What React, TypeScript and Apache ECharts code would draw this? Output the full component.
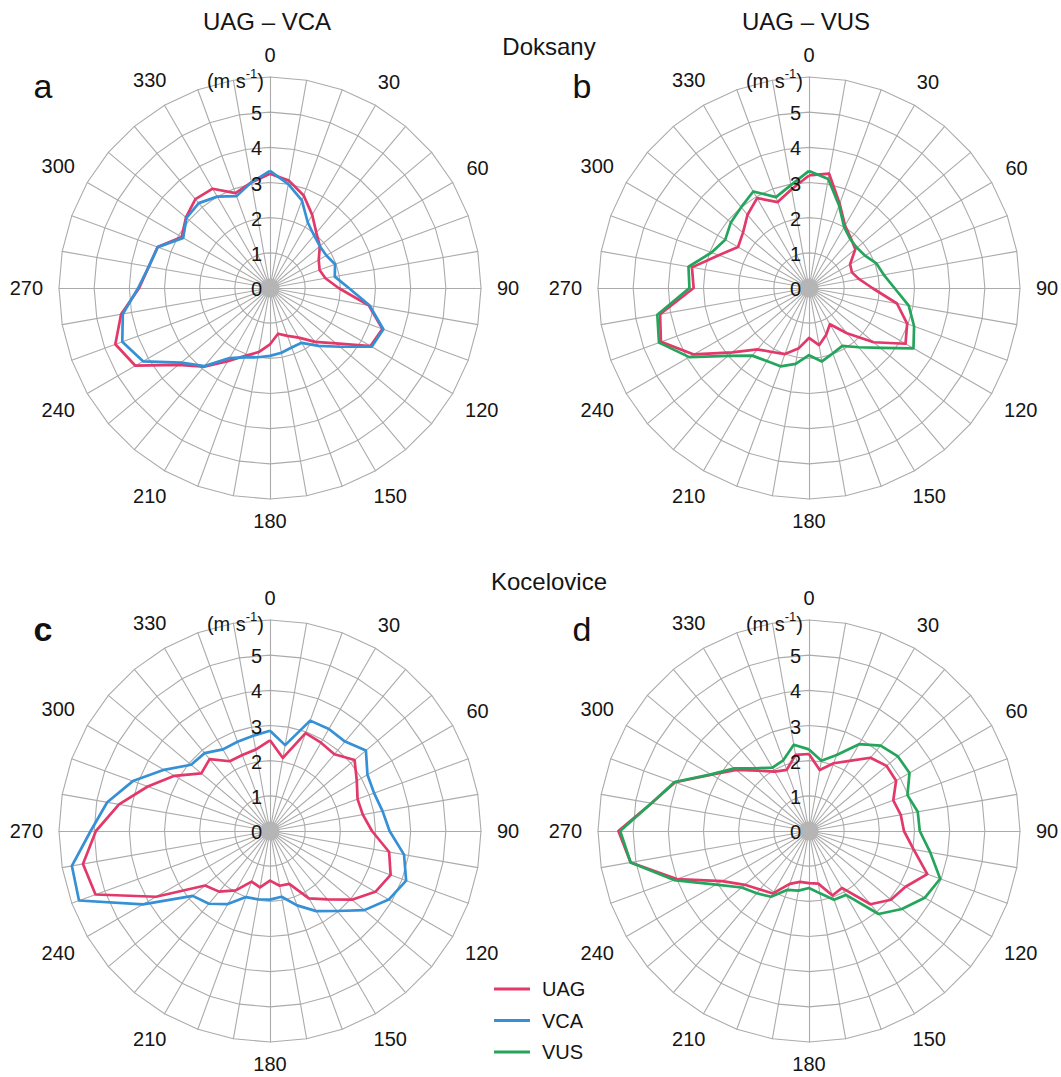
import React, { useEffect, useRef } from 'react';
import * as echarts from 'echarts';

// Wind directions (deg, clockwise from north), one value every 10 degrees
const directions = [0, 10, 20, 30, 40, 50, 60, 70, 80, 90, 100, 110, 120, 130, 140, 150, 160, 170,
  180, 190, 200, 210, 220, 230, 240, 250, 260, 270, 280, 290, 300, 310, 320, 330, 340, 350];
const directionLabels = ['0', '30', '60', '90', '120', '150', '180', '210', '240', '270', '300', '330'];
const speedTicks = ['0', '1', '2', '3', '4', '5'];
const unitMain = '(m s';
const unitSup = '-1';
const panelTitles = ['UAG – VCA', 'UAG – VUS'];
const stationNames = ['Doksany', 'Kocelovice'];
const panelLetters = ['a', 'b', 'c', 'd'];
const seriesNames = ['UAG', 'VCA', 'VUS'];

// Panel a – Doksany, UAG vs VCA (m s-1)
const uagDoksanyA = [3.25, 3.1, 2.8, 2.4, 2.05, 1.85, 1.6, 1.5, 1.6, 1.95, 2.85, 3.4, 3.3, 2.45, 2.0, 1.63, 1.45, 1.32,
  1.6, 1.85, 2.05, 2.4, 2.92, 3.4, 4.42, 4.68, 4.3, 3.72, 3.5, 3.4, 2.9, 3.12, 3.3, 3.26, 2.87, 3.05];
const vcaDoksany = [3.33, 3.0, 2.65, 2.15, 1.95, 1.85, 1.85, 1.97, 1.87, 2.24, 2.88, 3.43, 3.34, 2.6, 2.15, 1.8, 1.8, 1.87,
  1.93, 2.0, 2.1, 2.3, 2.9, 3.3, 4.17, 4.47, 4.25, 3.75, 3.5, 3.4, 2.85, 3.1, 3.15, 3.0, 2.78, 3.05];
// Panel b – Doksany, UAG vs VUS
const uagDoksanyB = [3.2, 3.3, 2.55, 2.05, 1.85, 1.72, 1.35, 1.3, 1.45, 1.8, 2.54, 2.97, 3.17, 2.4, 1.68, 1.19, 1.42, 1.65,
  1.42, 1.75, 2.0, 2.1, 2.28, 2.85, 3.78, 4.48, 4.3, 3.28, 3.38, 2.73, 2.33, 2.45, 2.72, 2.95, 2.6, 2.85];
const vusDoksany = [3.33, 3.15, 2.5, 2.0, 1.82, 1.78, 1.84, 2.04, 2.16, 2.43, 2.88, 3.18, 3.43, 2.65, 2.2, 1.9, 1.98, 2.12,
  1.91, 2.19, 2.37, 2.4, 2.51, 3.0, 3.93, 4.54, 4.38, 3.4, 3.48, 2.95, 2.75, 2.9, 3.0, 3.17, 2.75, 2.97];
// Panel c – Kocelovice, UAG vs VCA
const uagKoceloviceC = [2.58, 2.11, 2.96, 2.9, 2.85, 3.14, 2.85, 2.65, 2.68, 2.9, 3.44, 3.65, 3.46, 3.04, 2.54, 2.21, 1.6, 1.58,
  1.41, 1.63, 1.53, 1.95, 2.25, 2.41, 3.74, 5.28, 5.4, 4.95, 4.36, 3.7, 3.14, 2.55, 2.67, 2.29, 2.3, 2.35];
const vcaKocelovice = [2.85, 2.48, 3.34, 3.35, 3.32, 3.56, 3.2, 3.15, 3.25, 3.4, 3.87, 4.12, 3.9, 3.5, 2.97, 2.63, 2.25, 1.9,
  1.95, 1.97, 2.0, 2.4, 2.7, 2.87, 4.17, 5.78, 5.72, 5.1, 4.7, 4.15, 3.48, 2.93, 2.89, 2.68, 2.7, 2.75];
// Panel d – Kocelovice, UAG vs VUS
const uagKoceloviceD = [2.19, 1.76, 2.05, 2.3, 2.72, 2.88, 2.86, 2.55, 2.65, 2.7, 3.02, 3.58, 3.17, 3.04, 2.72, 1.87, 1.95, 1.52,
  1.48, 1.47, 1.6, 2.05, 2.17, 2.38, 2.85, 4.0, 5.15, 5.42, 4.55, 4.05, 3.2, 2.7, 2.24, 1.95, 1.85, 2.2];
const vusKocelovice = [2.32, 2.03, 2.3, 2.85, 3.17, 3.3, 3.3, 2.98, 3.14, 3.15, 3.5, 3.97, 3.8, 3.45, 3.08, 2.1, 2.08, 1.8,
  1.62, 1.72, 1.78, 2.16, 2.31, 2.5, 3.05, 4.08, 5.15, 5.37, 4.55, 4.07, 3.22, 2.77, 2.33, 2.08, 2.14, 2.49];

const COLORS: Record<string, string> = { UAG: '#e2386a', VCA: '#3590d6', VUS: '#25a55b' };

const W = 1061;
const H = 1077;
const R = 211;
const MAX = 6;
const CENTERS: [number, number][] = [[270, 288], [809, 288], [270, 831], [809, 831]];
const FONT = '"Liberation Sans", Arial, Helvetica, sans-serif';
const TXT = '#151515';
const GRID = '#ababab';

const panels = [
  [{ name: 'UAG', values: uagDoksanyA }, { name: 'VCA', values: vcaDoksany }],
  [{ name: 'UAG', values: uagDoksanyB }, { name: 'VUS', values: vusDoksany }],
  [{ name: 'UAG', values: uagKoceloviceC }, { name: 'VCA', values: vcaKocelovice }],
  [{ name: 'UAG', values: uagKoceloviceD }, { name: 'VUS', values: vusKocelovice }],
];

// ECharts radar lays indicators counter-clockwise; reorder so directions run clockwise.
const toRadarOrder = (vals: number[]) => vals.map((_, i) => vals[(vals.length - i) % vals.length]);

function buildOption() {
  const indicator = directions.map(() => ({ name: '', min: 0, max: MAX }));
  const radar = CENTERS.map((c) => ({
    center: c,
    radius: R,
    startAngle: 90,
    splitNumber: MAX,
    shape: 'polygon',
    indicator,
    axisName: { show: false },
    splitArea: { show: false },
    splitLine: { lineStyle: { color: GRID, width: 1.1 } },
    axisLine: { lineStyle: { color: GRID, width: 1.1 } },
    axisTick: { show: false },
    axisLabel: { show: false },
  }));

  const series: any[] = [];
  panels.forEach((p, k) => {
    p.forEach((s, j) => {
      const color = COLORS[s.name];
      series.push({
        type: 'radar',
        radarIndex: k,
        name: s.name,
        symbol: 'none',
        silent: true,
        z: 2 + j,
        lineStyle: { color, width: 2.7 },
        itemStyle: { color },
        data: [{ name: s.name, value: toRadarOrder(s.values), lineStyle: { color, width: 2.7 }, itemStyle: { color } }],
      });
    });
  });

  const graphic: any[] = [];
  const unit = R / MAX;
  CENTERS.forEach(([cx, cy], k) => {
    // grey hub where the spokes meet
    graphic.push({
      type: 'circle', silent: true, z: 1,
      shape: { cx, cy, r: 9.5 },
      style: { fill: '#b5b5b5' },
    });
    // direction labels
    directionLabels.forEach((lab) => {
      const a = (Number(lab) * Math.PI) / 180;
      const w = 0.556 * 20 * lab.length;
      const rr = R + 16 + Math.abs(Math.sin(a)) * w / 2 + Math.abs(Math.cos(a)) * 6;
      graphic.push({
        type: 'text',
        x: cx + rr * Math.sin(a),
        y: cy - rr * Math.cos(a),
        silent: true,
        z: 5,
        style: { text: lab, fontSize: 20, fontFamily: FONT, fill: TXT, align: 'center', verticalAlign: 'middle' },
      });
    });
    // speed tick labels
    speedTicks.forEach((t) => {
      graphic.push({
        type: 'text',
        x: cx - 8,
        y: cy - Number(t) * unit + 1,
        silent: true,
        z: 5,
        style: { text: t, fontSize: 20, fontFamily: FONT, fill: TXT, align: 'right', verticalAlign: 'middle' },
      });
    });
    graphic.push({
      type: 'text',
      x: cx - 6,
      y: cy - MAX * unit + 2,
      silent: true,
      z: 5,
      style: {
        text: '{a|' + unitMain + '}{b|' + unitSup + '}{a|)}',
        align: 'right',
        verticalAlign: 'middle',
        rich: {
          a: { fontSize: 20, fontFamily: FONT, fill: TXT, lineHeight: 24, verticalAlign: 'bottom' },
          b: { fontSize: 13, fontFamily: FONT, fill: TXT, lineHeight: 24, verticalAlign: 'top', padding: [0, 0, 10, 0] },
        },
      },
    });
    // panel letter
    graphic.push({
      type: 'text',
      x: cx - 227,
      y: cy - 202,
      silent: true,
      style: {
        text: panelLetters[k], fontSize: 34, fontFamily: FONT, fill: '#111',
        fontWeight: k === 2 ? 'bold' : 'normal', align: 'center', verticalAlign: 'middle',
      },
    });
  });

  panelTitles.forEach((t, i) => {
    graphic.push({
      type: 'text', x: CENTERS[i][0] - 3, y: 21, silent: true,
      style: { text: t, fontSize: 24, fontFamily: FONT, fill: TXT, align: 'center', verticalAlign: 'middle' },
    });
  });
  stationNames.forEach((t, i) => {
    graphic.push({
      type: 'text', x: 549, y: i === 0 ? 46 : 581, silent: true,
      style: { text: t, fontSize: 24, fontFamily: FONT, fill: TXT, align: 'center', verticalAlign: 'middle' },
    });
  });

  return {
    animation: false,
    backgroundColor: '#ffffff',
    radar,
    series,
    legend: {
      data: seriesNames,
      orient: 'vertical',
      left: 494,
      top: 979,
      padding: 0,
      icon: 'rect',
      itemWidth: 36,
      itemHeight: 3,
      itemGap: 11.5,
      selectedMode: false,
      textStyle: { fontSize: 20, fontFamily: FONT, color: TXT, padding: [0, 0, 0, 7] },
    },
    graphic,
  };
}

export default function App() {
  const ref = useRef<HTMLDivElement>(null);
  useEffect(() => {
    if (!ref.current) return;
    const chart = echarts.init(ref.current, undefined, { renderer: 'svg' });
    chart.setOption(buildOption() as any);
    return () => chart.dispose();
  }, []);
  return (
    <div
      ref={ref}
      style={{ position: 'absolute', left: 0, top: 0, width: W, height: H, background: '#fff' }}
    />
  );
}
